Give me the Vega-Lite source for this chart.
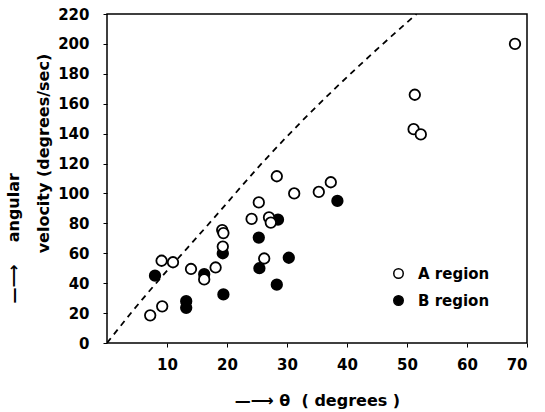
{
  "$schema": "https://vega.github.io/schema/vega-lite/v6.json",
  "autosize": {"type": "none"},
  "width": 420,
  "height": 329,
  "padding": {"left": 107, "top": 14, "right": 18, "bottom": 69},
  "background": "white",
  "datasets": {
    "pts": [
      {"theta": 8, "v": 45, "region": "B region"},
      {"theta": 13.2, "v": 28, "region": "B region"},
      {"theta": 13.2, "v": 23.5, "region": "B region"},
      {"theta": 16.2, "v": 46, "region": "B region"},
      {"theta": 19.3, "v": 60, "region": "B region"},
      {"theta": 19.4, "v": 32.5, "region": "B region"},
      {"theta": 25.3, "v": 70.5, "region": "B region"},
      {"theta": 25.4, "v": 50, "region": "B region"},
      {"theta": 28.3, "v": 39, "region": "B region"},
      {"theta": 30.3, "v": 57, "region": "B region"},
      {"theta": 38.4, "v": 95, "region": "B region"},
      {"theta": 7.2, "v": 18.5, "region": "A region"},
      {"theta": 9.2, "v": 24.5, "region": "A region"},
      {"theta": 9.1, "v": 55, "region": "A region"},
      {"theta": 11, "v": 54, "region": "A region"},
      {"theta": 14, "v": 49.5, "region": "A region"},
      {"theta": 16.2, "v": 42.5, "region": "A region"},
      {"theta": 18.1, "v": 50.5, "region": "A region"},
      {"theta": 19.3, "v": 64.5, "region": "A region"},
      {"theta": 19.2, "v": 75.5, "region": "A region"},
      {"theta": 19.4, "v": 73.5, "region": "A region"},
      {"theta": 24.1, "v": 83, "region": "A region"},
      {"theta": 25.3, "v": 94, "region": "A region"},
      {"theta": 27, "v": 84, "region": "A region"},
      {"theta": 27.3, "v": 80.5, "region": "A region"},
      {"theta": 26.2, "v": 56.5, "region": "A region"},
      {"theta": 28.3, "v": 111.5, "region": "A region"},
      {"theta": 31.2, "v": 100, "region": "A region"},
      {"theta": 35.3, "v": 101, "region": "A region"},
      {"theta": 37.3, "v": 107.5, "region": "A region"},
      {"theta": 51.3, "v": 166, "region": "A region"},
      {"theta": 51.1, "v": 143, "region": "A region"},
      {"theta": 52.3, "v": 139.5, "region": "A region"},
      {"theta": 68, "v": 200, "region": "A region"},
      {"theta": 28.5, "v": 82.5, "region": "B region"}
    ],
    "curve": [
      {"theta": 0, "v": 0},
      {"theta": 4.4, "v": 22},
      {"theta": 17.7, "v": 83},
      {"theta": 26, "v": 121},
      {"theta": 32.4, "v": 148},
      {"theta": 43.8, "v": 192},
      {"theta": 51.6, "v": 220}
    ]
  },
  "encoding": {
    "x": {
      "field": "theta",
      "type": "quantitative",
      "scale": {"domain": [0, 70], "nice": false},
      "axis": {
        "values": [10, 20, 30, 40, 50, 60, 70],
        "labelPadding": 10,
        "title": "—⟶\u00a0θ\u00a0\u00a0(\u00a0degrees\u00a0)",
        "titleY": 62,
        "titleBaseline": "alphabetic"
      }
    },
    "y": {
      "field": "v",
      "type": "quantitative",
      "scale": {"domain": [0, 220], "nice": false},
      "axis": {
        "values": [0, 20, 40, 60, 80, 100, 120, 140, 160, 180, 200, 220],
        "labelPadding": 14,
        "title": ["—⟶\u00a0\u00a0\u00a0\u00a0angular", "\u200b\u00a0\u00a0\u00a0\u00a0\u00a0\u00a0\u00a0\u00a0\u00a0velocity (degrees/sec)"],
        "titleX": -94,
        "titleY": 289,
        "titleAngle": -90,
        "titleBaseline": "middle",
        "titleAlign": "left",
        "titleLineHeight": 30
      }
    }
  },
  "layer": [
    {
      "data": {"name": "curve"},
      "mark": {"type": "line", "color": "black", "strokeWidth": 1.8, "strokeDash": [6, 5], "interpolate": "monotone", "clip": true}
    },
    {
      "data": {"name": "pts"},
      "mark": {"type": "point", "shape": "circle", "size": 110, "stroke": "black", "strokeWidth": 1.8, "opacity": 1, "filled": false},
      "encoding": {
        "fill": {
          "field": "region",
          "type": "nominal",
          "scale": {"domain": ["A region", "B region"], "range": ["white", "black"]},
          "legend": {
            "orient": "none",
            "legendX": 284,
            "legendY": 252,
            "title": null,
            "padding": 0,
            "symbolType": "circle",
            "symbolSize": 90,
            "symbolStrokeColor": "black",
            "symbolStrokeWidth": 1.5,
            "labelFont": "DejaVu Sans",
            "labelFontSize": 15,
            "labelFontWeight": "bold",
            "labelColor": "black",
            "labelOffset": 12,
            "rowPadding": 10
          }
        },
        "order": {"field": "region", "sort": "descending"}
      }
    }
  ],
  "config": {
    "view": {"stroke": "black", "strokeWidth": 1.5},
    "axis": {
      "domain": false,
      "grid": false,
      "labelFont": "DejaVu Sans",
      "labelFontSize": 15,
      "labelFontWeight": "bold",
      "labelColor": "black",
      "tickColor": "black",
      "tickSize": 4,
      "titleFont": "DejaVu Sans",
      "titleFontSize": 16,
      "titleFontWeight": "bold",
      "titleColor": "black"
    }
  }
}
